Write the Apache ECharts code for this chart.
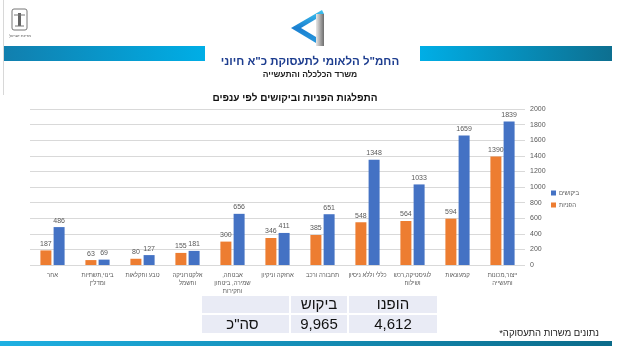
<!DOCTYPE html>
<html>
<head>
<meta charset="utf-8">
<script src="https://cdn.jsdelivr.net/npm/echarts@6/dist/echarts.min.js"></script>
<style>
html,body{margin:0;padding:0;background:#fff;}
#c{width:627px;height:364px;}
</style>
</head>
<body>
<div id="c" dir="rtl"></div>
<script>
// ---- data ----
var categories = ['אחר', 'בינוי,תשתיות\nומדל"ן', 'טבע וחקלאות', 'אלקטרוניקה\nוחשמל', 'אבטחה,\nשמירה, ביטחון\nוחקירות', 'אחזקה וניקיון', 'תחבורה ורכב', 'כללי וללא ניסיון', 'לוגיסטיקה,רכש\nושילוח', 'קמעונאות', 'ייצור,מכונות\nותעשייה'];
var referrals = [187, 63, 80, 155, 300, 346, 385, 548, 564, 594, 1390];   // הפניות
var demands = [486, 69, 127, 181, 656, 411, 651, 1348, 1033, 1659, 1839]; // ביקושים
var seriesNames = ['הפניות', 'ביקושים'];
var yMax = 2000, yStep = 200;
var tableHeaders = ['', 'ביקוש', 'הופנו'];
var tableRow = ['סה"כ', '9,965', '4,612'];
var chartTitle = 'התפלגות הפניות וביקושים לפי ענפים';
var headerTitle = 'החמ"ל הלאומי לתעסוקת כ"א חיוני';
var headerSub = 'משרד הכלכלה והתעשייה';
var footnote = 'נתונים משרות התעסוקה*\u200F';
var emblemText = 'מדינת ישראל';

var FONT = '"Liberation Sans", "DejaVu Sans", sans-serif';
var chart = echarts.init(document.getElementById('c'), null, {renderer: 'canvas'});

function grad(c1, c2) {
  return new echarts.graphic.LinearGradient(0, 0, 1, 0, [{offset: 0, color: c1}, {offset: 1, color: c2}]);
}

var colX = [201, 290, 348, 438];
var rowY = [295, 314, 334];
var tableGraphics = [];
for (var i = 0; i < 3; i++) {
  for (var r = 0; r < 2; r++) {
    tableGraphics.push({type: 'rect', shape: {x: colX[i] + 1, y: rowY[r] + 1, width: colX[i + 1] - colX[i] - 2, height: rowY[r + 1] - rowY[r] - 2}, style: {fill: '#e9ebf5'}, silent: true});
  }
  tableGraphics.push({type: 'text', x: (colX[i] + colX[i + 1]) / 2, y: 305, style: {text: tableHeaders[i], font: '15px ' + FONT, fill: '#111', align: 'center', verticalAlign: 'middle'}});
  tableGraphics.push({type: 'text', x: (colX[i] + colX[i + 1]) / 2 - (i === 0 ? 3 : 0), y: 324.5, style: {text: tableRow[i], font: '15px ' + FONT, fill: '#111', align: 'center', verticalAlign: 'middle'}});
}

var option = {
  animation: false,
  backgroundColor: '#fff',
  textStyle: {fontFamily: FONT},
  grid: {left: 30, right: 102, top: 109, bottom: 99, containLabel: false},
  legend: {
    data: ['ביקושים', 'הפניות'],
    orient: 'vertical', left: 551, top: 190, padding: 0,
    itemWidth: 5, itemHeight: 5, itemGap: 6,
    icon: 'rect',
    textStyle: {fontSize: 6, color: '#595959', fontFamily: FONT, padding: [0, 0, 0, -2]}
  },
  xAxis: {
    type: 'category', data: categories,
    axisLine: {show: false}, axisTick: {show: false},
    axisLabel: {interval: 0, fontSize: 6, lineHeight: 8, color: '#595959', margin: 6, fontFamily: FONT}
  },
  yAxis: {
    type: 'value', position: 'right', min: 0, max: yMax, interval: yStep,
    axisLine: {show: false}, axisTick: {show: false},
    axisLabel: {fontSize: 7, color: '#595959', margin: 5, fontFamily: FONT, formatter: function (v) { return String(v); }},
    splitLine: {lineStyle: {color: '#d9d9d9', width: 1}}
  },
  series: [
    {name: seriesNames[0], type: 'bar', data: referrals, barWidth: 11, barGap: '20%',
     itemStyle: {color: '#ED7D31'},
     label: {show: true, position: 'top', distance: 3, fontSize: 7, color: '#595959', fontFamily: FONT}},
    {name: seriesNames[1], type: 'bar', data: demands, barWidth: 11, barGap: '20%',
     itemStyle: {color: '#4472C4'},
     label: {show: true, position: 'top', distance: 3, fontSize: 7, color: '#595959', fontFamily: FONT}}
  ],
  graphic: [
    {type: 'line', shape: {x1: 3.5, y1: 0, x2: 3.5, y2: 95}, style: {stroke: '#d8d8d8', lineWidth: 1}, silent: true},
    {type: 'rect', shape: {x: 4, y: 46, width: 201, height: 15}, style: {fill: grad('#117fae', '#00aee6')}, silent: true},
    {type: 'rect', shape: {x: 420, y: 46, width: 192, height: 15}, style: {fill: grad('#00aee6', '#0d6f90')}, silent: true},
    {type: 'polygon', shape: {points: [[291, 28], [322, 10], [324, 14], [324, 46], [321, 46]]}, style: {fill: new echarts.graphic.LinearGradient(0, 0, 0, 1, [{offset: 0, color: '#3fc4ef'}, {offset: 0.5, color: '#1a7fd0'}, {offset: 1, color: '#2a9de0'}])}, silent: true},
    {type: 'polygon', shape: {points: [[301, 28], [316, 19], [316, 37]]}, style: {fill: '#fff'}, silent: true},
    {type: 'rect', shape: {x: 316, y: 14, width: 8, height: 32}, style: {fill: grad('#e8e8e8', '#6d6d6d')}, silent: true},
    {type: 'rect', shape: {x: 12, y: 9, width: 15, height: 21, r: 2}, style: {fill: 'none', stroke: '#777', lineWidth: 1}, silent: true},
    {type: 'rect', shape: {x: 18, y: 13, width: 3, height: 13}, style: {fill: '#666'}, silent: true},
    {type: 'line', shape: {x1: 14, y1: 15, x2: 25, y2: 15}, style: {stroke: '#777', lineWidth: 1}, silent: true},
    {type: 'line', shape: {x1: 15, y1: 26, x2: 24, y2: 26}, style: {stroke: '#777', lineWidth: 1}, silent: true},
    {type: 'text', x: 20, y: 36, style: {text: emblemText, font: '4px ' + FONT, fill: '#555', align: 'center', verticalAlign: 'middle'}},
    {type: 'text', x: 310, y: 62, style: {text: headerTitle, font: 'bold 11.5px ' + FONT, fill: '#1d3d8f', align: 'center', verticalAlign: 'middle'}},
    {type: 'text', x: 310, y: 75, style: {text: headerSub, font: 'bold 8.5px ' + FONT, fill: '#222', align: 'center', verticalAlign: 'middle'}},
    {type: 'text', x: 295, y: 98, style: {text: chartTitle, font: 'bold 10px ' + FONT, fill: '#111', align: 'center', verticalAlign: 'middle'}},
    {type: 'text', x: 599, y: 333, style: {text: footnote, font: '9.5px ' + FONT, fill: '#222', align: 'right', verticalAlign: 'middle'}},
    {type: 'rect', shape: {x: 0, y: 341, width: 612, height: 5}, style: {fill: grad('#1fb0e2', '#0b6b8a')}, silent: true}
  ].concat(tableGraphics)
};
chart.setOption(option);
</script>
</body>
</html>
